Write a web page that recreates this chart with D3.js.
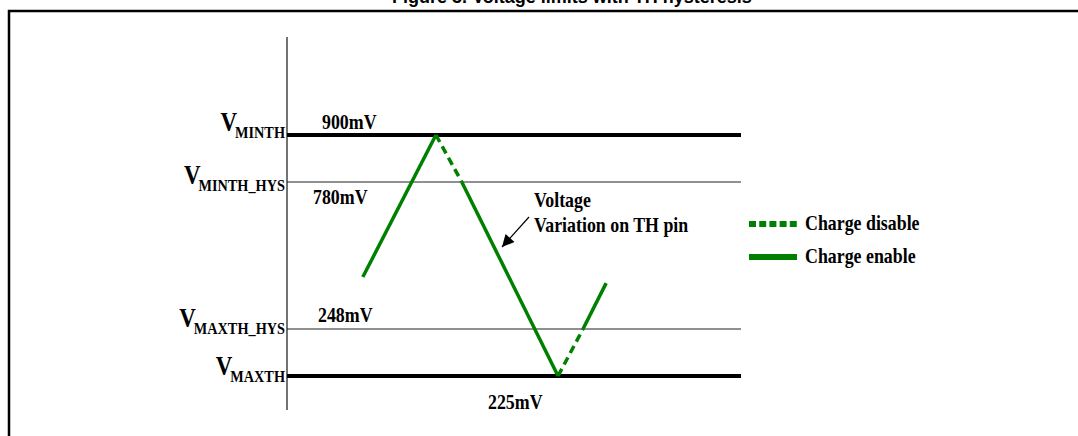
<!DOCTYPE html>
<html lang="en">
<head>
<meta charset="UTF-8">
<title>Voltage limits with TH hysteresis</title>
<script src="https://d3js.org/d3.v7.min.js"></script>
<style>
body {
  margin: 0;
  background: white;
}
.serif {
  font-family: "Liberation Serif", "Times New Roman", serif;
  font-weight: bold;
  fill: black;
}
</style>
</head>
<body>
<div id="chart"></div>

<script>
// threshold levels (top to bottom)
var levelNames = ["MINTH", "MINTH_HYS", "MAXTH_HYS", "MAXTH"];
var levelValues = [900, 780, 248, 225];
var levelLabels = ["900mV", "780mV", "248mV", "225mV"];

// voltage trace on TH pin: time (arbitrary units) and mV
var traceTime = [16.7, 32.8, 38.5, 59.7, 65.2, 70.3];
var traceMv = [436, 900, 780, 225, 248, 414];
// state of each segment between two points
var traceState = ["enable", "disable", "enable", "disable", "enable"];

var legendNames = ["Charge disable", "Charge enable"];
var legendStates = ["disable", "enable"];

var titleText = "Figure 3. Voltage limits with TH hysteresis";

// layout
var W = 1078, H = 436;
var plotLeft = 287, plotRight = 741;
var green = "#008000";
var condenseK = 0.85;

var svg = d3.select("#chart")
  .append("svg")
    .attr("width", W)
    .attr("height", H);

// title (mostly cut off by the top of the picture)
svg.append("text")
  .attr("x", 572)
  .attr("y", 3)
  .attr("text-anchor", "middle")
  .style("font-family", "'Liberation Sans', Arial, sans-serif")
  .style("font-weight", "bold")
  .style("font-size", "18px")
  .text(titleText);

// frame
svg.append("rect")
  .attr("x", 9)
  .attr("y", 11)
  .attr("width", 1200)
  .attr("height", 600)
  .style("fill", "none")
  .style("stroke", "black")
  .style("stroke-width", 2.5);

// scales: schematic (piecewise) voltage axis
var y = d3.scaleLinear()
  .domain([225, 248, 780, 900])
  .range([376, 329, 182, 135]);
var x = d3.scaleLinear()
  .domain([0, 100])
  .range([plotLeft, plotRight]);

// squeeze a text horizontally, like the condensed font of the original
function condense(sel, k) {
  sel.each(function() {
    var w = this.getComputedTextLength();
    d3.select(this)
      .attr("textLength", w * k)
      .attr("lengthAdjust", "spacingAndGlyphs");
    this.__w = w * k;
  });
}

// vertical axis
svg.append("line")
  .attr("x1", plotLeft).attr("x2", plotLeft)
  .attr("y1", 37).attr("y2", 410)
  .style("stroke", "#444")
  .style("stroke-width", 1.5);

// threshold lines
var levels = levelNames.map(function(n, i) {
  return {name: n, value: levelValues[i], label: levelLabels[i], i: i};
});
svg.append("g")
  .selectAll("line")
  .data(levels)
  .enter()
  .append("line")
    .attr("x1", plotLeft)
    .attr("x2", plotRight)
    .attr("y1", function(d) { return y(d.value); })
    .attr("y2", function(d) { return y(d.value); })
    .style("stroke", function(d) { return d.name.indexOf("_HYS") < 0 ? "black" : "#222"; })
    .style("stroke-width", function(d) { return d.name.indexOf("_HYS") < 0 ? 4 : 1.2; });

// V labels with subscripts, right aligned to the axis
var vDy = [-4, 2, -2, -1];
levels.forEach(function(d) {
  var base = y(d.value) + vDy[d.i];
  var sub = svg.append("text")
    .attr("class", "serif")
    .attr("y", base + 7)
    .style("font-size", "17px")
    .text(d.name);
  condense(sub, 0.84);
  var subX = 285 - sub.node().__w;
  sub.attr("x", subX);
  var v = svg.append("text")
    .attr("class", "serif")
    .attr("y", base)
    .style("font-size", "27px")
    .text("V");
  condense(v, 0.85);
  v.attr("x", subX - v.node().__w + 2);
});

// value labels
var valDx = [35, 26, 31, 201];
var valDy = [-6, 22, -7, 33];
levels.forEach(function(d) {
  var t = svg.append("text")
    .attr("class", "serif")
    .attr("x", plotLeft + valDx[d.i])
    .attr("y", y(d.value) + valDy[d.i])
    .style("font-size", "21px")
    .text(d.label);
  condense(t, condenseK);
});

// trace segments
var segs = traceState.map(function(s, i) {
  return {state: s, t0: traceTime[i], v0: traceMv[i], t1: traceTime[i + 1], v1: traceMv[i + 1]};
});
svg.append("g")
  .selectAll("line")
  .data(segs)
  .enter()
  .append("line")
    .attr("x1", function(d) { return x(d.t0); })
    .attr("y1", function(d) { return y(d.v0); })
    .attr("x2", function(d) { return x(d.t1); })
    .attr("y2", function(d) { return y(d.v1); })
    .style("stroke", green)
    .style("stroke-width", 3.5)
    .style("stroke-dasharray", function(d) { return d.state == "disable" ? "8,5" : null; });

// annotation with arrow
svg.append("defs").append("marker")
  .attr("id", "arrow")
  .attr("viewBox", "0 0 10 10")
  .attr("refX", 10).attr("refY", 5)
  .attr("markerWidth", 14).attr("markerHeight", 12)
  .attr("markerUnits", "userSpaceOnUse")
  .attr("orient", "auto")
  .append("path")
    .attr("d", "M0,0 L10,5 L0,10 Z")
    .style("fill", "black");

svg.append("line")
  .attr("x1", 529).attr("y1", 217)
  .attr("x2", 502).attr("y2", 247)
  .style("stroke", "black")
  .style("stroke-width", 1.2)
  .attr("marker-end", "url(#arrow)");

var ann1 = svg.append("text")
  .attr("class", "serif")
  .attr("x", 534).attr("y", 207)
  .style("font-size", "21px")
  .text("Voltage");
condense(ann1, condenseK);
var ann2 = svg.append("text")
  .attr("class", "serif")
  .attr("x", 534).attr("y", 232)
  .style("font-size", "21px")
  .text("Variation on TH pin");
condense(ann2, condenseK);

// legend
var legend = svg.append("g")
  .selectAll("g")
  .data(legendNames)
  .enter()
  .append("g")
    .attr("transform", function(d, i) { return "translate(749," + (224 + i * 33) + ")"; });
legend.append("line")
  .attr("x1", 0).attr("x2", 48)
  .attr("y1", 0).attr("y2", 0)
  .style("stroke", green)
  .style("stroke-width", 6)
  .style("stroke-dasharray", function(d, i) { return legendStates[i] == "disable" ? "7,3.2" : null; });
legend.append("text")
  .attr("class", "serif")
  .attr("x", 56)
  .attr("y", 6)
  .style("font-size", "21px")
  .text(function(d) { return d; })
  .call(condense, condenseK);
</script>
</body>
</html>
